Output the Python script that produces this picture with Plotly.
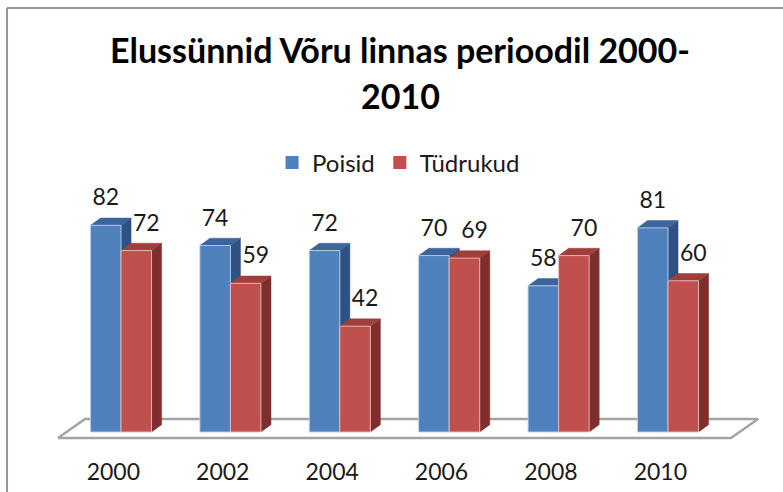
import plotly.graph_objects as go

# ---------------- data ----------------
years = ["2000", "2002", "2004", "2006", "2008", "2010"]
poisid = [82, 74, 72, 70, 58, 81]
tydrukud = [72, 59, 42, 69, 70, 60]
series_names = ["Poisid", "Tüdrukud"]

# ---------------- style ----------------
FRONT = ["#4F81BD", "#C0504D"]
SIDE = ["#2F5183", "#7E2F2D"]
TOP = ["#3C659E", "#A03E3B"]
EDGE = ["rgba(190,208,232,0.9)", "rgba(232,190,190,0.9)"]
FONT = "Lato"
TXT = "#1a1a1a"

BAR_W = 0.279      # bar width (category units)
DX = 0.092         # 3-D depth, x (category units)
DY = 2.9           # 3-D depth, y (value units)
LABEL_UP = 10.2    # label offset above bar top (value units)

X_RANGE = [-0.7404, 5.841]
Y_RANGE = [-5.159, 123.81]

fig = go.Figure()

# floor
n = len(years)
fl_pad, fl_dx, fl_front, fl_back = 0.576, 0.247, -2.4, 5.2
fig.add_trace(go.Scatter(
    x=[-fl_pad, n - 1 + fl_pad, n - 1 + fl_pad + fl_dx, -fl_pad + fl_dx, -fl_pad],
    y=[fl_front, fl_front, fl_back, fl_back, fl_front],
    mode="lines", fill="toself", fillcolor="white",
    line=dict(color="#A3A3A3", width=2.5), showlegend=False, hoverinfo="skip"))


def poly(xs, ys):
    out_x, out_y = [], []
    for px, py in zip(xs, ys):
        out_x += px + [px[0], None]
        out_y += py + [py[0], None]
    return out_x, out_y


for s, vals in enumerate([poisid, tydrukud]):
    lefts = [i - BAR_W + s * BAR_W for i in range(n)]
    sx, sy, tx, ty, fx, fy = [], [], [], [], [], []
    for i, v in enumerate(vals):
        l, r = lefts[i], lefts[i] + BAR_W
        sx.append([r, r + DX, r + DX, r]); sy.append([0, DY, v + DY, v])
        tx.append([l, r, r + DX, l + DX]); ty.append([v, v, v + DY, v + DY])
        fx.append([l, r, r, l]); fy.append([0, 0, v, v])
    for (px, py), col, ln in [((sx, sy), SIDE[s], None), ((tx, ty), TOP[s], None),
                              ((fx, fy), FRONT[s], EDGE[s])]:
        X, Y = poly(px, py)
        fig.add_trace(go.Scatter(
            x=X, y=Y, mode="lines", fill="toself", fillcolor=col,
            line=dict(color=ln if ln else col, width=1 if ln else 0.5),
            showlegend=False, hoverinfo="skip"))
    # data labels
    fig.add_trace(go.Scatter(
        x=[lefts[i] + BAR_W / 2 + s * DX for i in range(n)],
        y=[v + LABEL_UP for v in vals],
        mode="text", text=[str(v) for v in vals], textposition="middle center",
        textfont=dict(family=FONT, size=23, color=TXT),
        showlegend=False, hoverinfo="skip"))
    # legend entry
    fig.add_trace(go.Scatter(x=[None], y=[None], mode="markers", name=series_names[s],
                             marker=dict(color=FRONT[s], symbol="square", size=13),
                             showlegend=True))

fig.update_layout(
    width=783, height=492,
    margin=dict(l=40, r=23, t=120, b=47),
    paper_bgcolor="white", plot_bgcolor="white",
    font=dict(family=FONT, color=TXT),
    xaxis=dict(range=X_RANGE, showgrid=False, zeroline=False, showline=False,
               automargin=False,
               tickvals=[i - 0.07 for i in range(n)], ticktext=years,
               ticks="outside", ticklen=6, tickcolor="rgba(0,0,0,0)",
               tickfont=dict(family=FONT, size=23, color=TXT), fixedrange=True),
    yaxis=dict(range=Y_RANGE, visible=False, automargin=False, fixedrange=True),
    legend=dict(orientation="h", x=0.498, xanchor="center", y=0.868, yanchor="middle",
                font=dict(family=FONT, size=24, color=TXT), bgcolor="rgba(0,0,0,0)"),
    showlegend=True,
    annotations=[
        dict(text="<b>Elussünnid Võru linnas perioodil 2000-</b>", xref="paper", yref="paper",
             x=0.5, y=1.2154, xanchor="center", yanchor="middle", showarrow=False,
             font=dict(family=FONT, size=34, color="#000")),
        dict(text="<b>2010</b>", xref="paper", yref="paper",
             x=0.5, y=1.0769, xanchor="center", yanchor="middle", showarrow=False,
             font=dict(family=FONT, size=34, color="#000")),
    ],
    shapes=[
        dict(type="line", xref="paper", yref="paper", x0=-0.0458, x1=-0.0458,
             y0=1.3446, y1=-0.2, line=dict(color="#969696", width=2)),
        dict(type="line", xref="paper", yref="paper", x0=-0.0458, x1=1.1,
             y0=1.3446, y1=1.3446, line=dict(color="#969696", width=2)),
    ],
)

fig.write_html("out.html", config={"displayModeBar": False},
               post_script="document.body.style.margin='0px';")
